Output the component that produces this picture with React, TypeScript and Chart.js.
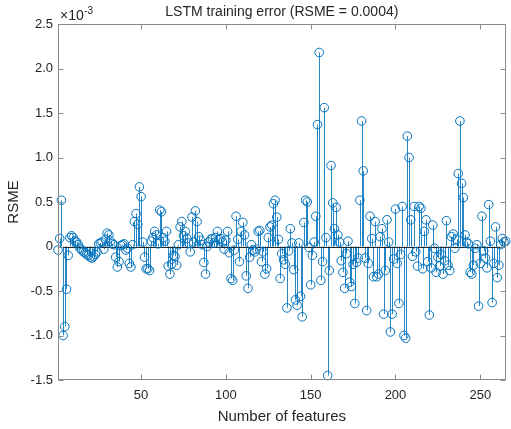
import React, { useEffect, useRef } from 'react';
import { Chart, registerables } from 'chart.js';

Chart.register(...registerables);

const featureIndex: number[] = Array.from({ length: 265 }, (_, i) => i + 1);

const errorValues: number[] = [
  -0.04, 0.09, 0.52, -1.0, -0.9, -0.48, -0.1, 0.1, 0.12, 0.1,
  0.06, 0.05, 0.02, -0.02, -0.04, -0.06, -0.07, -0.09, -0.1, -0.12,
  -0.13, -0.11, -0.09, -0.06, 0.03, 0.04, 0.05, -0.03, 0.08, 0.15,
  0.13, 0.06, 0.03, 0.02, -0.12, -0.23, -0.17, 0.01, 0.02, 0.03,
  -0.04, -0.02, -0.19, -0.23, 0.02, 0.28, 0.37, 0.25, 0.67, 0.56,
  0.05, -0.12, -0.25, -0.25, -0.27, 0.06, 0.1, 0.17, 0.13, 0.03,
  0.41, 0.39, 0.1, 0.06, 0.17, -0.22, -0.31, -0.2, -0.1, -0.11,
  -0.21, 0.02, 0.22, 0.28, 0.12, 0.17, 0.09, 0.04, -0.06, 0.33,
  0.05, 0.4, 0.28, 0.11, 0.07, 0.02, -0.18, -0.31, 0.0, 0.05,
  0.08, 0.09, 0.04, 0.1, 0.17, 0.08, 0.09, 0.05, -0.03, 0.07,
  0.17, -0.07, -0.36, -0.38, -0.04, 0.34, 0.08, -0.17, 0.17, 0.27,
  0.13, -0.33, -0.47, -0.12, 0.02, -0.04, -0.06, -0.03, 0.17, 0.18,
  -0.17, -0.06, -0.31, -0.25, 0.1, 0.22, 0.24, 0.48, 0.52, 0.33,
  0.08, -0.36, -0.08, -0.15, -0.2, -0.69, -0.05, 0.2, 0.04, -0.26,
  -0.6, -0.66, 0.04, -0.56, -0.79, 0.27, 0.52, 0.5, -0.01, -0.43,
  -0.1, 0.05, 0.34, 1.37, 2.18, -0.38, -0.17, 1.56, 0.1, -1.45,
  -0.27, 0.91, 0.49, 0.2, 0.44, 0.13, 0.05, -0.16, -0.29, -0.47,
  -0.08, 0.06, -0.4, -0.45, -0.2, -0.64, -0.18, -0.13, 0.52, 1.41,
  0.85, -0.13, -0.72, -0.19, 0.34, 0.09, -0.34, 0.28, -0.34, -0.31,
  0.11, 0.2, -0.76, -0.27, 0.3, 0.05, -0.96, -0.76, -0.14, 0.42,
  -0.19, -0.64, -0.09, 0.45, -1.0, -1.03, 1.24, 1.0, 0.3, -0.11,
  0.45, -0.06, -0.22, 0.45, 0.43, -0.25, 0.17, 0.3, -0.17, -0.77,
  -0.24, 0.24, -0.02, -0.29, -0.12, -0.22, -0.09, -0.31, -0.16, 0.29,
  -0.21, -0.27, 0.11, 0.14, -0.02, 0.08, 0.82, 1.41, 0.71, 0.55,
  0.13, 0.05, 0.03, -0.29, -0.31, -0.21, -0.02, 0.02, -0.67, -0.19,
  0.34, -0.05, -0.13, -0.24, 0.47, 0.06, -0.63, -0.19, 0.22, -0.35,
  -0.21, 0.02, 0.09, 0.05, 0.06,
];

const xTickValues: number[] = [50, 100, 150, 200, 250];
const yTickValues: number[] = [-1.5, -1, -0.5, 0, 0.5, 1, 1.5, 2, 2.5];

const chartTitle = 'LSTM training error (RSME = 0.0004)';
const xAxisTitle = 'Number of features';
const yAxisTitle = 'RSME';

const FONT = '"Liberation Sans", Arial, Helvetica, sans-serif';
const STEM_COLOR = '#0072BD';
const AXIS_COLOR = '#8a8a8a';
const TEXT_COLOR = '#262626';

const stemPlugin = {
  id: 'matlabStem',
  beforeDatasetsDraw(chart: any) {
    const { ctx, chartArea, scales } = chart;
    const x = scales.x;
    const y = scales.y;
    const y0 = y.getPixelForValue(0);
    ctx.save();
    ctx.beginPath();
    ctx.rect(chartArea.left, chartArea.top, chartArea.right - chartArea.left, chartArea.bottom - chartArea.top);
    ctx.clip();
    ctx.strokeStyle = 'rgba(0,114,189,0.85)';
    ctx.lineWidth = 1;
    ctx.beginPath();
    featureIndex.forEach((f, i) => {
      const px = Math.round(x.getPixelForValue(f)) + 0.5;
      ctx.moveTo(px, y0);
      ctx.lineTo(px, y.getPixelForValue(errorValues[i]));
    });
    ctx.stroke();
    ctx.strokeStyle = '#262626';
    ctx.beginPath();
    const by = Math.round(y0) + 0.5;
    ctx.moveTo(chartArea.left, by);
    ctx.lineTo(chartArea.right, by);
    ctx.stroke();
    ctx.restore();
  },
  afterDraw(chart: any) {
    const { ctx, chartArea, scales } = chart;
    const x = scales.x;
    const y = scales.y;
    const L = Math.round(chartArea.left) + 0.5;
    const R = Math.round(chartArea.right) - 0.5;
    const T = Math.round(chartArea.top) + 0.5;
    const B = Math.round(chartArea.bottom) - 0.5;
    ctx.save();
    ctx.strokeStyle = AXIS_COLOR;
    ctx.lineWidth = 1;
    ctx.strokeRect(L, T, R - L, B - T);
    const tl = 5;
    ctx.beginPath();
    x.ticks.forEach((t: any) => {
      const px = Math.round(x.getPixelForValue(t.value)) + 0.5;
      ctx.moveTo(px, B);
      ctx.lineTo(px, B - tl);
      ctx.moveTo(px, T);
      ctx.lineTo(px, T + tl);
    });
    y.ticks.forEach((t: any) => {
      const py = Math.round(y.getPixelForValue(t.value)) + 0.5;
      ctx.moveTo(L, py);
      ctx.lineTo(L + tl, py);
      ctx.moveTo(R, py);
      ctx.lineTo(R - tl, py);
    });
    ctx.stroke();
    // exponent label
    ctx.fillStyle = TEXT_COLOR;
    ctx.textBaseline = 'alphabetic';
    ctx.textAlign = 'left';
    ctx.font = `14px ${FONT}`;
    const ex = chartArea.left + 2;
    const ey = chartArea.top - 4;
    ctx.fillText('\u00d710', ex, ey);
    const w = ctx.measureText('\u00d710').width;
    ctx.font = `10px ${FONT}`;
    ctx.fillText('-3', ex + w + 0.5, ey - 6);
    ctx.restore();
  },
};

export default function App() {
  const canvasRef = useRef<HTMLCanvasElement | null>(null);

  useEffect(() => {
    if (!canvasRef.current) return;
    const chart = new Chart(canvasRef.current, {
      type: 'scatter',
      data: {
        datasets: [
          {
            data: featureIndex.map((f, i) => ({ x: f, y: errorValues[i] })),
            pointStyle: 'circle',
            pointRadius: 4.3,
            pointHoverRadius: 4.3,
            pointBorderWidth: 1,
            borderColor: STEM_COLOR,
            backgroundColor: 'rgba(0,0,0,0)',
            showLine: false,
            clip: false,
          } as any,
        ],
      },
      options: {
        responsive: false,
        animation: false,
        events: [],
        layout: { padding: { left: 0, right: 1, top: 0, bottom: 0 } },
        plugins: {
          legend: { display: false },
          tooltip: { enabled: false },
          title: {
            display: true,
            text: chartTitle,
            fullSize: false,
            color: TEXT_COLOR,
            font: { family: FONT, size: 14, weight: 'normal', lineHeight: '17px' } as any,
            padding: { top: 4, bottom: 3 },
          },
        },
        scales: {
          x: {
            type: 'linear',
            min: 1,
            max: 265,
            afterBuildTicks: (s: any) => {
              s.ticks = xTickValues.map((v) => ({ value: v }));
            },
            afterFit: (s: any) => {
              s.height = 49;
            },
            grid: { display: false, drawTicks: false },
            border: { display: false },
            ticks: {
              color: TEXT_COLOR,
              font: { family: FONT, size: 13 },
              padding: 8,
              maxRotation: 0,
              autoSkip: false,
            },
            title: {
              display: true,
              text: xAxisTitle,
              color: TEXT_COLOR,
              font: { family: FONT, size: 15 },
              padding: { top: 0, bottom: 3 },
            },
          },
          y: {
            type: 'linear',
            min: -1.5,
            max: 2.5,
            afterBuildTicks: (s: any) => {
              s.ticks = yTickValues.map((v) => ({ value: v }));
            },
            afterFit: (s: any) => {
              s.width = 58;
            },
            grid: { display: false, drawTicks: false },
            border: { display: false },
            ticks: {
              color: TEXT_COLOR,
              font: { family: FONT, size: 13 },
              padding: 5,
              autoSkip: false,
            },
            title: {
              display: true,
              text: yAxisTitle,
              color: TEXT_COLOR,
              font: { family: FONT, size: 15 },
              padding: { top: 5, bottom: 0 },
            },
          },
        },
      },
      plugins: [stemPlugin],
    });
    return () => chart.destroy();
  }, []);

  return (
    <div style={{ position: 'absolute', left: 0, top: 0, width: 511, height: 429, background: '#fff' }}>
      <canvas ref={canvasRef} width={511} height={429} style={{ display: 'block' }} />
    </div>
  );
}
